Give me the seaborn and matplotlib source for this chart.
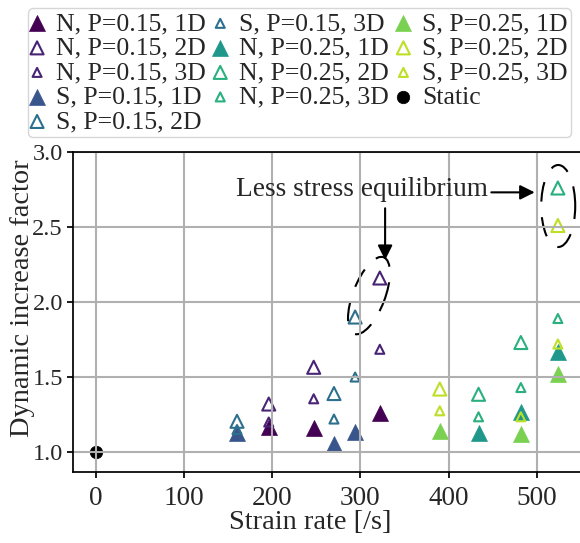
import numpy as np
import matplotlib
matplotlib.use("Agg")
import matplotlib.pyplot as plt
import seaborn as sns
from matplotlib.patches import Ellipse
from matplotlib.transforms import ScaledTranslation

sns.set_style("ticks")
plt.rcParams['font.family'] = ['Liberation Serif', 'DejaVu Serif']
plt.rcParams['axes.axisbelow'] = 'line'

FONT = 19.6
LABEL_FONT = 20.4
LEG_FONT = 18.5

# strain rates [/s] and dynamic increase factors
strain_n15 = [196, 247, 322]
dif_n15_1d = [1.17, 1.16, 1.26]
dif_n15_2d = [1.32, 1.565, 2.16]
dif_n15_3d = [1.20, 1.355, 1.685]

strain_s15 = [160, 270, 294]
dif_s15_1d = [1.13, 1.055, 1.135]
dif_s15_2d = [1.205, 1.39, 1.90]
dif_s15_3d = [1.15, 1.22, 1.50]

strain_n25 = [434, 482, 524]
dif_n25_1d = [1.13, 1.27, 1.67]
dif_n25_2d = [1.385, 1.73, 2.76]
dif_n25_3d = [1.235, 1.43, 1.89]

strain_s25 = [390, 482, 524]
dif_s25_1d = [1.14, 1.12, 1.52]
dif_s25_2d = [1.42, np.nan, 2.51]
dif_s25_3d = [1.275, 1.235, 1.72]

strain_static = [0]
dif_static = [1.0]

cmap = plt.get_cmap('viridis')
groups = [("N, P=0.15", strain_n15, [dif_n15_1d, dif_n15_2d, dif_n15_3d], 0.0),
          ("S, P=0.15", strain_s15, [dif_s15_1d, dif_s15_2d, dif_s15_3d], 0.267),
          ("N, P=0.25", strain_n25, [dif_n25_1d, dif_n25_2d, dif_n25_3d], 0.533),
          ("S, P=0.25", strain_s25, [dif_s25_1d, dif_s25_2d, dif_s25_3d], 0.8)]
dims = ["1D", "2D", "3D"]
msize = {"1D": 132, "2D": 88, "3D": 42}

fig = plt.figure(figsize=(5.8, 5.43), dpi=100)
ax = fig.add_axes([72.7 / 580, 1 - 472.3 / 543, 1 - 72.7 / 580, (472.3 - 152) / 543])

for name, xs, ys_list, cpos in groups:
    for d, ys in zip(dims, ys_list):
        if d == "1D":
            c = cmap(cpos)
            sns.scatterplot(x=xs, y=ys, marker='^', s=msize[d], color=c, edgecolor=c,
                            linewidth=0.5, label=f"{name}, {d}", legend=False, ax=ax, zorder=1)
        else:
            c = cmap(cpos + 0.1)
            sns.scatterplot(x=xs, y=ys, marker='^', s=msize[d], color=c, edgecolor=c,
                            facecolor='none', linewidth=1.5, label=f"{name}, {d}",
                            legend=False, ax=ax, zorder=1)

sns.scatterplot(x=strain_static, y=dif_static, marker='o', s=81, color='black',
                edgecolor='black', linewidth=0.5, label="Static", legend=False, ax=ax, zorder=1)

ax.set_xlim(-26.4, 549.1)
ax.set_ylim(0.865, 3.0)
ax.set_xticks([0, 100, 200, 300, 400, 500])
ax.set_yticks([1.0, 1.5, 2.0, 2.5, 3.0])
ax.set_yticklabels(['1.0', '1.5', '2.0', '2.5', '3.0'])
ax.grid(True, color='#b0b0b0', lw=1.5)
ax.tick_params(length=4.5, width=1.25, color='black')
ax.tick_params(axis='x', pad=5.5, labelsize=FONT)
ax.tick_params(axis='y', pad=2.5, labelsize=17.5)
for side in ['left', 'bottom', 'top']:
    ax.spines[side].set_color('black')
    ax.spines[side].set_linewidth(1.25)
ax.spines['right'].set_visible(False)

ax.set_xlabel('Strain rate [/s]', fontsize=LABEL_FONT)
ax.set_ylabel('Dynamic increase factor', fontsize=LABEL_FONT)
ax.xaxis.set_label_coords(0.469, -0.156)
ax.yaxis.set_label_coords(-0.099, 0.543)
ax.xaxis.label.set_va('center')
ax.yaxis.label.set_va('center')

# annotation
ax.text(301.6, 2.747, 'Less stress equilibrium', fontsize=FONT, ha='center', va='center')
arrow_kw = dict(arrowstyle='-|>', color='black', lw=1.5, mutation_scale=22, shrinkA=0, shrinkB=0)
ax.annotate('', xy=(497.7, 2.731), xytext=(448.5, 2.731), arrowprops=arrow_kw)
ax.annotate('', xy=(328, 2.28), xytext=(328, 2.625), arrowprops=arrow_kw)

# dashed ellipses (sizes in inches, centred in data coords)
for (cx, cy), w, h, ang in [((309.7, 2.043), 0.82, 0.32, 69), ((524.4, 2.64), 0.82, 0.34, 90)]:
    ax.add_patch(Ellipse((0, 0), w, h, angle=ang, fill=False, ec='black', lw=1.5,
                         ls=(0, (9.5, 7.5)),
                         transform=fig.dpi_scale_trans + ScaledTranslation(cx, cy, ax.transData)))

handles, labels = ax.get_legend_handles_labels()
fig.legend(handles, labels, loc='upper left', bbox_to_anchor=(27.7 / 580, 1 - 8.5 / 543),
           ncol=3, fontsize=LEG_FONT, borderaxespad=0, handlelength=0.45, handletextpad=0.5,
           columnspacing=0.35, labelspacing=0.06, borderpad=0.14, frameon=True,
           edgecolor='0.8', fancybox=True)

fig.savefig('out.png', dpi=100)
